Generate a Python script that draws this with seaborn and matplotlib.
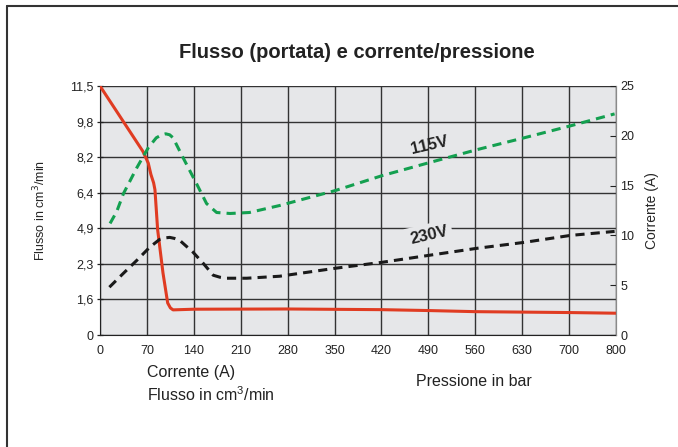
import numpy as np
import matplotlib
matplotlib.use('Agg')
import matplotlib.pyplot as plt
import seaborn as sns
import pandas as pd
from matplotlib.lines import Line2D

sns.set_style('white')
plt.rcParams['font.family'] = ['Liberation Sans', 'DejaVu Sans']

# ── Data ──
X_TICKS = [0, 70, 140, 210, 280, 350, 420, 490, 560, 630, 700, 800]
FLOW_TICKS = [0, 1.6, 2.3, 4.9, 6.4, 8.2, 9.8, 11.5]
FLOW_TICK_LABELS = ['0', '1,6', '2,3', '4,9', '6,4', '8,2', '9,8', '11,5']
CURR_TICKS = [0, 5, 10, 15, 20, 25]

flow_p = [0, 64, 72, 76, 80, 82, 86, 94, 101, 105, 109, 140, 280, 420, 490, 560, 700, 800]
flow_v = [11.5, 8.46, 7.9, 7.32, 6.9, 6.55, 4.8, 2.12, 1.44, 1.22, 1.13, 1.16, 1.17, 1.14, 1.1, 1.05, 1.01, 0.98]

v115_p = [15, 25, 35, 55, 72, 84, 92, 98, 104, 109, 124, 144, 159, 174, 194, 223, 268, 351, 421, 491, 562, 633, 703, 797]
v115_i = [11.2, 12.4, 14.2, 16.8, 18.8, 19.8, 20.1, 20.2, 20.1, 19.8, 17.8, 15.2, 13.2, 12.3, 12.2, 12.3, 13.0, 14.5, 16.0, 17.3, 18.6, 19.8, 21.0, 22.2]

v230_p = [14, 35, 55, 74, 89, 97, 104, 111, 119, 139, 154, 169, 179, 189, 219, 268, 351, 421, 491, 562, 633, 703, 797]
v230_i = [4.8, 6.2, 7.5, 8.8, 9.6, 9.75, 9.8, 9.7, 9.5, 8.3, 7.2, 6.0, 5.8, 5.7, 5.7, 5.9, 6.7, 7.3, 8.0, 8.7, 9.3, 10.0, 10.4]

BG = '#e6e7e9'
RED = '#e03c22'
GREEN = '#14a050'
GRID = '#333333'

X_POS = np.arange(len(X_TICKS))
Y_POS = np.arange(len(FLOW_TICKS))


def x_fwd(x):
    return np.interp(x, X_TICKS, X_POS)


def x_inv(p):
    return np.interp(p, X_POS, X_TICKS)


def y_fwd(y):
    return np.interp(y, FLOW_TICKS, Y_POS)


def y_inv(p):
    return np.interp(p, Y_POS, FLOW_TICKS)


fig = plt.figure(figsize=(6.78, 4.47), dpi=100)
ax = fig.add_axes([100 / 678, 1 - 335 / 447, 516 / 678, 249 / 447])
ax.set_facecolor(BG)
ax.set_xscale('function', functions=(x_fwd, x_inv))
ax.set_yscale('function', functions=(y_fwd, y_inv))
ax.set_xlim(0, 800)
ax.set_ylim(0, 11.5)

ax.set_xticks(X_TICKS)
ax.set_xticklabels([str(t) for t in X_TICKS])
ax.set_yticks(FLOW_TICKS)
ax.set_yticklabels(FLOW_TICK_LABELS)
ax.minorticks_off()
ax.grid(True, color=GRID, linewidth=1.0)
ax.set_axisbelow(True)
ax.tick_params(axis='both', labelsize=9, colors='#222222', length=5, width=0.9)
ax.tick_params(axis='x', direction='out', pad=2)
ax.tick_params(axis='y', direction='inout', pad=2)
ax.spines['top'].set_visible(False)
ax.spines['left'].set_color('#222222')
ax.spines['bottom'].set_color('#222222')
ax.spines['right'].set_color('#8a8a8a')

sns.lineplot(x=flow_p, y=flow_v, ax=ax, color=RED, linewidth=2.2, zorder=4)

ax2 = ax.twinx()
ax2.set_ylim(0, 25)
ax2.set_yticks(CURR_TICKS)
ax2.tick_params(axis='y', labelsize=9, colors='#222222', direction='in', length=4, pad=3)
for s in ['top', 'left', 'bottom']:
    ax2.spines[s].set_visible(False)
ax2.spines['right'].set_color('#8a8a8a')

sns.lineplot(x=v115_p, y=v115_i, ax=ax2, color=GREEN, linewidth=2.2,
             linestyle=(0, (3, 2)), zorder=3)
sns.lineplot(x=v230_p, y=v230_i, ax=ax2, color='#1a1a1a', linewidth=2.2,
             linestyle=(0, (3, 2)), zorder=3)

ax2.text(491, 19.0, '115V', fontsize=12, fontweight='bold', color='#222222',
         ha='center', va='center', rotation=13)
ax2.text(491, 10.0, '230V', fontsize=12, fontweight='bold', color='#222222',
         ha='center', va='center', rotation=13,
         bbox=dict(boxstyle='square,pad=0.25', facecolor=BG, edgecolor='none'))

ax.set_ylabel('Flusso in cm$^3$/min', fontsize=9, labelpad=16)
ax2.set_ylabel('Corrente (A)', fontsize=10, labelpad=8)

fig.text(357 / 678, 1 - 52 / 447, 'Flusso (portata) e corrente/pressione',
         fontsize=14.5, fontweight='bold', ha='center', va='center', color='#222222')
fig.text(147 / 678, 1 - 372 / 447, 'Corrente (A)', fontsize=11.5,
         ha='left', va='center', color='#222222')
fig.text(147 / 678, 1 - 395 / 447, 'Flusso in cm$^{\\mathregular{3}}$/min', fontsize=11.5,
         ha='left', va='center', color='#222222')
fig.text(416 / 678, 1 - 382 / 447, 'Pressione in bar', fontsize=11.5,
         ha='left', va='center', color='#222222')

# outer frame (left and top edges)
fig.add_artist(Line2D([6.5 / 678, 6.5 / 678], [0, 1 - 6 / 447],
                      transform=fig.transFigure, color='#333333', linewidth=1.5))
fig.add_artist(Line2D([6.5 / 678, 1], [1 - 6 / 447, 1 - 6 / 447],
                      transform=fig.transFigure, color='#333333', linewidth=1.5))

fig.savefig('out.png', dpi=100)
